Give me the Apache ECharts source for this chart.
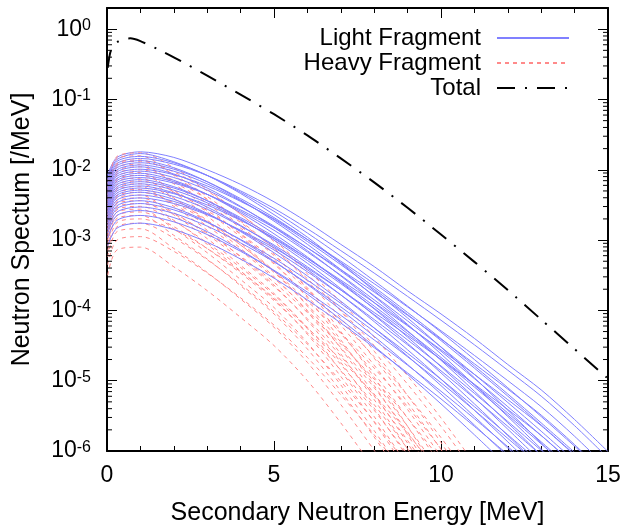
<!DOCTYPE html>
<html><head><meta charset="utf-8">
<script src="https://cdn.jsdelivr.net/npm/echarts@6/dist/echarts.min.js"></script>
<style>html,body{margin:0;padding:0;background:#fff}#chart{width:624px;height:527px}</style>
</head><body><div id="chart"></div>
<script>
// ---- data (energies in MeV, spectra in /MeV) ----
const lightEnergy = [0.02, 0.3, 1, 2, 3, 4, 5, 6, 7, 8, 9, 10, 11, 12, 13, 14, 15];
const heavyEnergy = [0.02, 0.3, 1, 2, 3, 4, 5, 6, 7, 8, 9, 10, 11];
const totalEnergy = [0.02, 0.1, 0.2, 0.35, 0.5, 0.7, 1, 1.5, 2, 3, 4, 5, 6, 7, 8, 9, 10, 11, 12, 13, 14, 15];
const totalSpectrum = [2.82e-1, 4.68e-1, 5.89e-1, 6.76e-1, 7.24e-1, 7.41e-1, 6.76e-1, 5.25e-1, 3.98e-1, 2.19e-1, 1.17e-1, 6.17e-2, 3.09e-2, 1.45e-2, 6.61e-3, 2.88e-3, 1.20e-3, 4.90e-4, 1.95e-4, 7.41e-5, 2.82e-5, 1.07e-5];

const light01 = [8.5e-3, 1.5e-2, 1.8e-2, 1.5e-2, 1.0e-2, 6.2e-3, 3.5e-3, 1.8e-3, 8.7e-4, 4.2e-4, 1.9e-4, 8.9e-5, 4.0e-5, 1.7e-5, 7.4e-6, 2.8e-6, 9.8e-7];
const light02 = [7.9e-3, 1.4e-2, 1.7e-2, 1.3e-2, 8.3e-3, 4.6e-3, 2.3e-3, 1.1e-3, 4.7e-4, 1.9e-4, 7.8e-5, 3.0e-5, 1.1e-5, 3.8e-6, 1.3e-6, 4.4e-7];
const light03 = [7.41e-3, 1.32e-2, 1.55e-2, 1.26e-2, 8.32e-3, 4.79e-3, 2.57e-3, 1.26e-3, 5.89e-4, 2.63e-4, 1.15e-4, 4.90e-5, 2.00e-5, 7.94e-6, 3.09e-6, 1.17e-6, 4.37e-7];
const light04 = [6.92e-3, 1.23e-2, 1.45e-2, 1.20e-2, 8.32e-3, 5.01e-3, 2.82e-3, 1.45e-3, 7.08e-4, 3.39e-4, 1.58e-4, 7.24e-5, 3.24e-5, 1.41e-5, 6.03e-6, 2.29e-6, 7.94e-7];
const light05 = [6.46e-3, 1.15e-2, 1.35e-2, 1.07e-2, 6.76e-3, 3.72e-3, 1.86e-3, 8.71e-4, 3.80e-4, 1.58e-4, 6.31e-5, 2.40e-5, 8.71e-6, 3.09e-6, 1.07e-6, 3.55e-7];
const light06 = [6.03e-3, 1.07e-2, 1.26e-2, 1.02e-2, 6.76e-3, 3.89e-3, 2.09e-3, 1.02e-3, 4.79e-4, 2.14e-4, 9.33e-5, 3.98e-5, 1.62e-5, 6.46e-6, 2.51e-6, 9.55e-7];
const light07 = [5.62e-3, 1.00e-2, 1.17e-2, 9.55e-3, 6.31e-3, 3.63e-3, 1.95e-3, 9.55e-4, 4.47e-4, 2.00e-4, 8.71e-5, 3.72e-5, 1.51e-5, 6.03e-6, 2.34e-6, 8.91e-7];
const light08 = [5.25e-3, 9.33e-3, 1.10e-2, 8.71e-3, 5.50e-3, 3.02e-3, 1.51e-3, 7.08e-4, 3.09e-4, 1.29e-4, 5.13e-5, 1.95e-5, 7.08e-6, 2.51e-6, 8.71e-7];
const light09 = [4.90e-3, 8.71e-3, 1.02e-2, 8.51e-3, 5.89e-3, 3.55e-3, 2.00e-3, 1.02e-3, 5.01e-4, 2.40e-4, 1.12e-4, 5.13e-5, 2.29e-5, 1.00e-5, 4.27e-6, 1.62e-6, 5.62e-7];
const light10 = [4.57e-3, 8.13e-3, 9.55e-3, 7.76e-3, 5.13e-3, 2.95e-3, 1.58e-3, 7.76e-4, 3.63e-4, 1.62e-4, 7.08e-5, 3.02e-5, 1.23e-5, 4.90e-6, 1.91e-6, 7.24e-7];
const light11 = [4.27e-3, 7.59e-3, 8.91e-3, 7.08e-3, 4.47e-3, 2.45e-3, 1.23e-3, 5.75e-4, 2.51e-4, 1.05e-4, 4.17e-5, 1.58e-5, 5.75e-6, 2.04e-6, 7.08e-7];
const light12 = [3.98e-3, 7.08e-3, 8.32e-3, 6.76e-3, 4.47e-3, 2.57e-3, 1.38e-3, 6.76e-4, 3.16e-4, 1.41e-4, 6.17e-5, 2.63e-5, 1.07e-5, 4.27e-6, 1.66e-6, 6.31e-7];
const light13 = [3.72e-3, 6.61e-3, 7.76e-3, 6.46e-3, 4.47e-3, 2.69e-3, 1.51e-3, 7.76e-4, 3.80e-4, 1.82e-4, 8.51e-5, 3.89e-5, 1.74e-5, 7.59e-6, 3.24e-6, 1.23e-6, 4.27e-7];
const light14 = [3.47e-3, 6.17e-3, 7.24e-3, 5.75e-3, 3.63e-3, 2.00e-3, 1.00e-3, 4.68e-4, 2.04e-4, 8.51e-5, 3.39e-5, 1.29e-5, 4.68e-6, 1.66e-6, 5.75e-7];
const light15 = [3.24e-3, 5.75e-3, 6.76e-3, 5.50e-3, 3.63e-3, 2.09e-3, 1.12e-3, 5.50e-4, 2.57e-4, 1.15e-4, 5.01e-5, 2.14e-5, 8.71e-6, 3.47e-6, 1.35e-6, 5.13e-7];
const light16 = [3.02e-3, 5.37e-3, 6.31e-3, 5.13e-3, 3.39e-3, 1.95e-3, 1.05e-3, 5.13e-4, 2.40e-4, 1.07e-4, 4.68e-5, 2.00e-5, 8.13e-6, 3.24e-6, 1.26e-6, 4.79e-7];
const light17 = [2.82e-3, 5.01e-3, 5.89e-3, 4.68e-3, 2.95e-3, 1.62e-3, 8.13e-4, 3.80e-4, 1.66e-4, 6.92e-5, 2.75e-5, 1.05e-5, 3.80e-6, 1.35e-6, 4.68e-7];
const light18 = [2.63e-3, 4.68e-3, 5.50e-3, 4.57e-3, 3.16e-3, 1.91e-3, 1.07e-3, 5.50e-4, 2.69e-4, 1.29e-4, 6.03e-5, 2.75e-5, 1.23e-5, 5.37e-6, 2.29e-6, 8.71e-7];
const light19 = [2.45e-3, 4.37e-3, 5.13e-3, 4.17e-3, 2.75e-3, 1.58e-3, 8.51e-4, 4.17e-4, 1.95e-4, 8.71e-5, 3.80e-5, 1.62e-5, 6.61e-6, 2.63e-6, 1.02e-6, 3.89e-7];
const light20 = [2.29e-3, 4.07e-3, 4.79e-3, 3.80e-3, 2.40e-3, 1.32e-3, 6.61e-4, 3.09e-4, 1.35e-4, 5.62e-5, 2.24e-5, 8.51e-6, 3.09e-6, 1.10e-6, 3.80e-7];
const light21 = [2.09e-3, 3.72e-3, 4.37e-3, 3.55e-3, 2.34e-3, 1.35e-3, 7.24e-4, 3.55e-4, 1.66e-4, 7.41e-5, 3.24e-5, 1.38e-5, 5.62e-6, 2.24e-6, 8.71e-7];
const light22 = [1.91e-3, 3.39e-3, 3.98e-3, 3.31e-3, 2.29e-3, 1.38e-3, 7.76e-4, 3.98e-4, 1.95e-4, 9.33e-5, 4.37e-5, 2.00e-5, 8.91e-6, 3.89e-6, 1.66e-6, 6.31e-7];
const light23 = [1.74e-3, 3.09e-3, 3.63e-3, 2.88e-3, 1.82e-3, 1.00e-3, 5.01e-4, 2.34e-4, 1.02e-4, 4.27e-5, 1.70e-5, 6.46e-6, 2.34e-6, 8.32e-7];
const light24 = [1.58e-3, 2.82e-3, 3.31e-3, 2.69e-3, 1.78e-3, 1.02e-3, 5.50e-4, 2.69e-4, 1.26e-4, 5.62e-5, 2.45e-5, 1.05e-5, 4.27e-6, 1.70e-6, 6.61e-7];
const light25 = [1.41e-3, 2.51e-3, 2.95e-3, 2.40e-3, 1.58e-3, 9.12e-4, 4.90e-4, 2.40e-4, 1.12e-4, 5.01e-5, 2.19e-5, 9.33e-6, 3.80e-6, 1.51e-6, 5.89e-7];
const light26 = [1.26e-3, 2.24e-3, 2.63e-3, 2.09e-3, 1.32e-3, 7.24e-4, 3.63e-4, 1.70e-4, 7.41e-5, 3.09e-5, 1.23e-5, 4.68e-6, 1.70e-6, 6.03e-7];
const light27 = [1.07e-3, 1.91e-3, 2.24e-3, 1.82e-3, 1.20e-3, 6.92e-4, 3.72e-4, 1.82e-4, 8.51e-5, 3.80e-5, 1.66e-5, 7.08e-6, 2.88e-6, 1.15e-6, 4.47e-7];
const light28 = [8.32e-4, 1.48e-3, 1.74e-3, 1.41e-3, 9.33e-4, 5.37e-4, 2.88e-4, 1.41e-4, 6.61e-5, 2.95e-5, 1.29e-5, 5.50e-6, 2.24e-6, 8.91e-7];

const heavy01 = [6.92e-3, 1.55e-2, 1.74e-2, 1.07e-2, 5.25e-3, 2.34e-3, 9.55e-4, 3.31e-4, 9.77e-5, 2.63e-5, 6.17e-6, 1.32e-6, 2.45e-7];
const heavy02 = [6.31e-3, 1.45e-2, 1.58e-2, 8.32e-3, 3.80e-3, 1.58e-3, 6.31e-4, 2.00e-4, 5.01e-5, 1.12e-5, 2.24e-6, 3.98e-7];
const heavy03 = [5.25e-3, 1.17e-2, 1.32e-2, 9.33e-3, 5.01e-3, 2.34e-3, 1.00e-3, 3.72e-4, 1.32e-4, 4.17e-5, 1.17e-5, 2.95e-6, 6.61e-7];
const heavy04 = [5.50e-3, 1.23e-2, 1.38e-2, 8.51e-3, 4.17e-3, 1.86e-3, 7.59e-4, 2.63e-4, 7.76e-5, 2.09e-5, 4.90e-6, 1.05e-6, 1.95e-7];
const heavy05 = [4.79e-3, 1.10e-2, 1.20e-2, 6.31e-3, 2.88e-3, 1.20e-3, 4.79e-4, 1.51e-4, 3.80e-5, 8.51e-6, 1.70e-6, 3.02e-7];
const heavy06 = [4.37e-3, 9.77e-3, 1.10e-2, 6.76e-3, 3.31e-3, 1.48e-3, 6.03e-4, 2.09e-4, 6.17e-5, 1.66e-5, 3.89e-6, 8.32e-7];
const heavy07 = [3.98e-3, 8.91e-3, 1.00e-2, 7.08e-3, 3.80e-3, 1.78e-3, 7.59e-4, 2.82e-4, 1.00e-4, 3.16e-5, 8.91e-6, 2.24e-6, 5.01e-7];
const heavy08 = [3.63e-3, 8.32e-3, 9.12e-3, 4.79e-3, 2.19e-3, 9.12e-4, 3.63e-4, 1.15e-4, 2.88e-5, 6.46e-6, 1.29e-6, 2.29e-7];
const heavy09 = [3.31e-3, 7.41e-3, 8.32e-3, 5.13e-3, 2.51e-3, 1.12e-3, 4.57e-4, 1.58e-4, 4.68e-5, 1.26e-5, 2.95e-6, 6.31e-7];
const heavy10 = [3.02e-3, 6.92e-3, 7.59e-3, 3.98e-3, 1.82e-3, 7.59e-4, 3.02e-4, 9.55e-5, 2.40e-5, 5.37e-6, 1.07e-6, 1.91e-7];
const heavy11 = [2.75e-3, 6.17e-3, 6.92e-3, 4.90e-3, 2.63e-3, 1.23e-3, 5.25e-4, 1.95e-4, 6.92e-5, 2.19e-5, 6.17e-6, 1.55e-6, 3.47e-7];
const heavy12 = [2.51e-3, 5.62e-3, 6.31e-3, 3.89e-3, 1.91e-3, 8.51e-4, 3.47e-4, 1.20e-4, 3.55e-5, 9.55e-6, 2.24e-6, 4.79e-7];
const heavy13 = [2.29e-3, 5.25e-3, 5.75e-3, 3.02e-3, 1.38e-3, 5.75e-4, 2.29e-4, 7.24e-5, 1.82e-5, 4.07e-6, 8.13e-7];
const heavy14 = [2.09e-3, 4.68e-3, 5.25e-3, 3.24e-3, 1.58e-3, 7.08e-4, 2.88e-4, 1.00e-4, 2.95e-5, 7.94e-6, 1.86e-6, 3.98e-7];
const heavy15 = [1.91e-3, 4.27e-3, 4.79e-3, 3.39e-3, 1.82e-3, 8.51e-4, 3.63e-4, 1.35e-4, 4.79e-5, 1.51e-5, 4.27e-6, 1.07e-6, 2.40e-7];
const heavy16 = [1.74e-3, 3.98e-3, 4.37e-3, 2.29e-3, 1.05e-3, 4.37e-4, 1.74e-4, 5.50e-5, 1.38e-5, 3.09e-6, 6.17e-7];
const heavy17 = [1.58e-3, 3.55e-3, 3.98e-3, 2.45e-3, 1.20e-3, 5.37e-4, 2.19e-4, 7.59e-5, 2.24e-5, 6.03e-6, 1.41e-6, 3.02e-7];
const heavy18 = [1.45e-3, 3.31e-3, 3.63e-3, 1.91e-3, 8.71e-4, 3.63e-4, 1.45e-4, 4.57e-5, 1.15e-5, 2.57e-6, 5.13e-7];
const heavy19 = [1.32e-3, 2.95e-3, 3.31e-3, 2.34e-3, 1.26e-3, 5.89e-4, 2.51e-4, 9.33e-5, 3.31e-5, 1.05e-5, 2.95e-6, 7.41e-7];
const heavy20 = [1.20e-3, 2.69e-3, 3.02e-3, 1.86e-3, 9.12e-4, 4.07e-4, 1.66e-4, 5.75e-5, 1.70e-5, 4.57e-6, 1.07e-6, 2.29e-7];
const heavy21 = [1.10e-3, 2.51e-3, 2.75e-3, 1.45e-3, 6.61e-4, 2.75e-4, 1.10e-4, 3.47e-5, 8.71e-6, 1.95e-6, 3.89e-7];
const heavy22 = [1.00e-3, 2.24e-3, 2.51e-3, 1.55e-3, 7.59e-4, 3.39e-4, 1.38e-4, 4.79e-5, 1.41e-5, 3.80e-6, 8.91e-7];
const heavy23 = [8.91e-4, 2.04e-3, 2.24e-3, 1.17e-3, 5.37e-4, 2.24e-4, 8.91e-5, 2.82e-5, 7.08e-6, 1.58e-6, 3.16e-7];
const heavy24 = [7.94e-4, 1.78e-3, 2.00e-3, 1.41e-3, 7.59e-4, 3.55e-4, 1.51e-4, 5.62e-5, 2.00e-5, 6.31e-6, 1.78e-6, 4.47e-7];
const heavy25 = [6.92e-4, 1.55e-3, 1.74e-3, 1.07e-3, 5.25e-4, 2.34e-4, 9.55e-5, 3.31e-5, 9.77e-6, 2.63e-6, 6.17e-7];
const heavy26 = [5.75e-4, 1.32e-3, 1.45e-3, 7.59e-4, 3.47e-4, 1.45e-4, 5.75e-5, 1.82e-5, 4.57e-6, 1.02e-6, 2.04e-7];
const heavy27 = [4.47e-4, 1.00e-3, 1.12e-3, 6.92e-4, 3.39e-4, 1.51e-4, 6.17e-5, 2.14e-5, 6.31e-6, 1.70e-6, 3.98e-7];
const heavy28 = [3.16e-4, 7.24e-4, 7.94e-4, 4.17e-4, 1.91e-4, 7.94e-5, 3.16e-5, 1.00e-5, 2.51e-6, 5.62e-7];

const lightCurves = [light01, light02, light03, light04, light05, light06, light07, light08, light09, light10,
  light11, light12, light13, light14, light15, light16, light17, light18, light19, light20,
  light21, light22, light23, light24, light25, light26, light27, light28];
const heavyCurves = [heavy01, heavy02, heavy03, heavy04, heavy05, heavy06, heavy07, heavy08, heavy09, heavy10,
  heavy11, heavy12, heavy13, heavy14, heavy15, heavy16, heavy17, heavy18, heavy19, heavy20,
  heavy21, heavy22, heavy23, heavy24, heavy25, heavy26, heavy27, heavy28];

// tick values
const xTicks = [0, 5, 10, 15];
const yLogMinorTicks = [
  2e-6, 3e-6, 4e-6, 5e-6, 6e-6, 7e-6, 8e-6, 9e-6,
  2e-5, 3e-5, 4e-5, 5e-5, 6e-5, 7e-5, 8e-5, 9e-5,
  2e-4, 3e-4, 4e-4, 5e-4, 6e-4, 7e-4, 8e-4, 9e-4,
  2e-3, 3e-3, 4e-3, 5e-3, 6e-3, 7e-3, 8e-3, 9e-3,
  2e-2, 3e-2, 4e-2, 5e-2, 6e-2, 7e-2, 8e-2, 9e-2,
  2e-1, 3e-1, 4e-1, 5e-1, 6e-1, 7e-1, 8e-1, 9e-1
];

// ---- chart ----
const FONT = 'Liberation Sans, Arial, Helvetica, sans-serif';
const LIGHT_COLOR = '#8080ff';
const HEAVY_COLOR = '#ff8a8a';

function zip(xs, ys) { return ys.map((y, i) => [xs[i], y]); }

const series = [];
for (let i = 0; i < lightCurves.length; i++) {
  series.push({
    name: 'Light Fragment', type: 'line', data: zip(lightEnergy, lightCurves[i]),
    symbol: 'none', showSymbol: false, smooth: 0.3, silent: true,
    lineStyle: { color: LIGHT_COLOR, width: 1 }, itemStyle: { color: LIGHT_COLOR }, z: 2
  });
  series.push({
    name: 'Heavy Fragment', type: 'line', data: zip(heavyEnergy, heavyCurves[i]),
    symbol: 'none', showSymbol: false, smooth: 0.3, silent: true,
    lineStyle: { color: HEAVY_COLOR, width: 1, type: [4, 4] }, itemStyle: { color: HEAVY_COLOR }, z: 2
  });
}
series.push({
  name: 'Total', type: 'line', data: zip(totalEnergy, totalSpectrum),
  symbol: 'none', showSymbol: false, smooth: 0.25, silent: true,
  lineStyle: { color: '#000', width: 2, type: [18, 10, 2, 10] }, itemStyle: { color: '#000' }, z: 3
});
series.push({
  type: 'custom', name: 'yMinor', silent: true, clip: false, z: 4,
  data: yLogMinorTicks.map(v => [0, v]),
  renderItem: function (params, api) {
    const v = api.value(1);
    const l = api.coord([0, v]);
    const r = api.coord([15, v]);
    return {
      type: 'group', children: [
        { type: 'line', shape: { x1: l[0], y1: l[1], x2: l[0] + 5, y2: l[1] }, style: { stroke: '#000', lineWidth: 1 } },
        { type: 'line', shape: { x1: r[0] - 5, y1: r[1], x2: r[0], y2: r[1] }, style: { stroke: '#000', lineWidth: 1 } }
      ]
    };
  }
});

const axisLineStyle = { show: true, onZero: false, lineStyle: { color: '#000', width: 2 } };
const xBase = {
  type: 'value', min: xTicks[0], max: xTicks[xTicks.length - 1], interval: xTicks[1] - xTicks[0],
  axisLine: axisLineStyle,
  axisTick: { show: true, inside: true, length: 10, lineStyle: { color: '#000', width: 1 } },
  minorTick: { show: true, splitNumber: 5, length: 5, lineStyle: { color: '#000', width: 1 } },
  splitLine: { show: false }, minorSplitLine: { show: false }
};
const yBase = {
  type: 'log', logBase: 10, min: 1e-6, max: 2, interval: 1,
  axisLine: axisLineStyle,
  axisTick: { show: true, inside: true, length: 10, lineStyle: { color: '#000', width: 1 } },
  splitLine: { show: false }
};

const option = {
  animation: false,
  backgroundColor: '#fff',
  textStyle: { fontFamily: FONT },
  grid: { left: 107, right: 16, top: 8, bottom: 76, containLabel: false, outerBoundsMode: 'none' },
  legend: {
    data: ['Light Fragment', 'Heavy Fragment', 'Total'],
    orient: 'vertical', align: 'right', right: 49, top: 21,
    itemWidth: 72, itemHeight: 14, itemGap: 1, selectedMode: false,
    itemStyle: { opacity: 0 },
    textStyle: { fontSize: 24, color: '#000', fontFamily: FONT, padding: [0, 11, 0, 0] }
  },
  xAxis: [
    Object.assign({}, xBase, {
      position: 'bottom',
      name: 'Secondary Neutron Energy [MeV]', nameLocation: 'middle', nameGap: 50,
      nameTextStyle: { fontSize: 25, color: '#000', fontFamily: FONT },
      axisLabel: { show: true, fontSize: 23, color: '#000', margin: 13, fontFamily: FONT }
    }),
    Object.assign({}, xBase, { position: 'top', axisLabel: { show: false } })
  ],
  yAxis: [
    Object.assign({}, yBase, {
      position: 'left',
      name: 'Neutron Spectum [/MeV]', nameLocation: 'middle', nameGap: 72,
      nameTextStyle: { fontSize: 25, color: '#000', fontFamily: FONT },
      axisLabel: {
        show: true, margin: 16, showMaxLabel: false, color: '#000', fontFamily: FONT,
        formatter: function (v) {
          const e = Math.round(Math.log10(v));
          return '{b|10}{s|' + e + '}';
        },
        rich: {
          b: { fontSize: 23, lineHeight: 23, verticalAlign: 'bottom', padding: [6, 0, 0, 0], color: '#000', fontFamily: FONT },
          s: { fontSize: 16, lineHeight: 16, verticalAlign: 'top', color: '#000', fontFamily: FONT }
        }
      }
    }),
    Object.assign({}, yBase, { position: 'right', axisLabel: { show: false } })
  ],
  series: series
};

const chart = echarts.init(document.getElementById('chart'), null, { renderer: 'canvas' });
chart.setOption(option);
</script>
</body></html>
